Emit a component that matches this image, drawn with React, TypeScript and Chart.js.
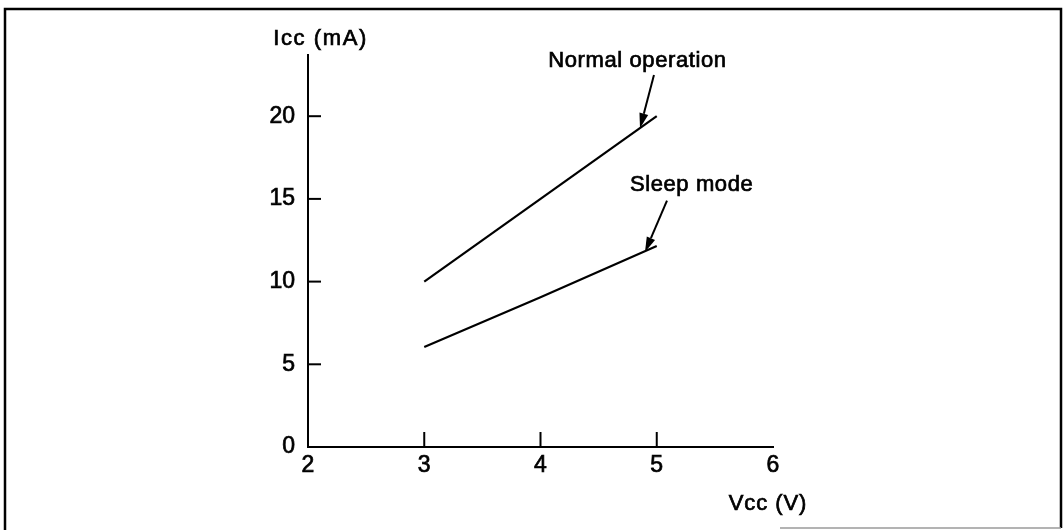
import React, { useEffect, useRef } from "react";
import { Chart, registerables } from "chart.js";

Chart.register(...registerables);

// ---- data ----
const vcc: number[] = [3, 4, 5];
const normalIcc: number[] = [10, 15, 20];
const sleepIcc: number[] = [6.05, 9.05, 12.15];

const xTickValues: number[] = [2, 3, 4, 5, 6];
const yTickValues: number[] = [0, 5, 10, 15, 20];
const xInnerTicks: number[] = [3, 4, 5];
const yInnerTicks: number[] = [5, 10, 15, 20];

const seriesNames: string[] = ["Normal operation", "Sleep mode"];
// annotation anchors in data coordinates: [textX, textY, tailX, tailY, tipX, tipY]
const normalNote: number[] = [4.834, 22.98, 4.976, 22.49, 4.856, 19.27];
const sleepNote: number[] = [5.3, 15.5, 5.088, 14.89, 4.899, 11.79];

const yTitle = "Icc (mA)";
const xTitle = "Vcc (V)";
const yTitlePos: number[] = [2.108, 24.3];
const xTitlePos: number[] = [5.957, -3.83];

const FONT = "'Liberation Sans', Arial, Helvetica, sans-serif";

const decorPlugin = {
  id: "decor",
  beforeDraw(chart: any) {
    const ctx = chart.ctx as CanvasRenderingContext2D;
    ctx.save();
    ctx.fillStyle = "#ffffff";
    ctx.fillRect(0, 0, chart.width, chart.height);
    ctx.strokeStyle = "#000";
    ctx.lineWidth = 2.5;
    ctx.beginPath();
    ctx.moveTo(5, 530);
    ctx.lineTo(5, 9);
    ctx.lineTo(1061, 9);
    ctx.lineTo(1061, 528);
    ctx.stroke();
    ctx.strokeStyle = "#9a9a9a";
    ctx.lineWidth = 1.5;
    ctx.beginPath();
    ctx.moveTo(780, 528);
    ctx.lineTo(1061, 528);
    ctx.stroke();
    ctx.restore();
  },
  afterDraw(chart: any) {
    const ctx = chart.ctx as CanvasRenderingContext2D;
    const xs = chart.scales.x;
    const ys = chart.scales.y;
    const y0 = ys.getPixelForValue(0);
    const x0 = xs.getPixelForValue(2);
    ctx.save();
    ctx.strokeStyle = "#000";
    ctx.fillStyle = "#000";
    ctx.lineWidth = 2;
    // inward ticks
    xInnerTicks.forEach((v) => {
      const px = xs.getPixelForValue(v);
      ctx.beginPath();
      ctx.moveTo(px, y0);
      ctx.lineTo(px, y0 - 15);
      ctx.stroke();
    });
    yInnerTicks.forEach((v) => {
      const py = ys.getPixelForValue(v);
      ctx.beginPath();
      ctx.moveTo(x0, py);
      ctx.lineTo(x0 + 13, py);
      ctx.stroke();
    });

    const text = (s: string, vx: number, vy: number, spacing: number) => {
      ctx.font = `22px ${FONT}`;
      (ctx as any).letterSpacing = `${spacing}px`;
      ctx.textAlign = "center";
      ctx.textBaseline = "alphabetic";
      const px = xs.getPixelForValue(vx);
      const py = ys.getPixelForValue(vy);
      ctx.lineWidth = 0.7;
      ctx.fillText(s, px, py);
      ctx.strokeText(s, px, py);
    };
    text(yTitle, yTitlePos[0], yTitlePos[1], 1.6);
    text(xTitle, xTitlePos[0], xTitlePos[1], 0.9);

    const note = (label: string, a: number[]) => {
      text(label, a[0], a[1], 0.6);
      const tx = xs.getPixelForValue(a[2]);
      const ty = ys.getPixelForValue(a[3]);
      const hx = xs.getPixelForValue(a[4]);
      const hy = ys.getPixelForValue(a[5]);
      const ang = Math.atan2(hy - ty, hx - tx);
      const len = 15;
      const hw = 4.5;
      const bx = hx - len * Math.cos(ang);
      const by = hy - len * Math.sin(ang);
      ctx.lineWidth = 2;
      ctx.beginPath();
      ctx.moveTo(tx, ty);
      ctx.lineTo(bx, by);
      ctx.stroke();
      ctx.beginPath();
      ctx.moveTo(hx, hy);
      ctx.lineTo(bx + hw * Math.sin(ang), by - hw * Math.cos(ang));
      ctx.lineTo(bx - hw * Math.sin(ang), by + hw * Math.cos(ang));
      ctx.closePath();
      ctx.fill();
    };
    note(seriesNames[0], normalNote);
    note(seriesNames[1], sleepNote);
    ctx.restore();
  },
};

export default function App() {
  const ref = useRef<HTMLCanvasElement | null>(null);
  useEffect(() => {
    document.body.style.margin = "0";
    const canvas = ref.current;
    if (!canvas) return;
    const tickFont = { family: FONT, size: 23 };
    const chart = new Chart(canvas, {
      type: "line",
      data: {
        datasets: [
          {
            label: seriesNames[0],
            data: vcc.map((x, i) => ({ x, y: normalIcc[i] })),
            borderColor: "#000",
            borderWidth: 2.2,
            pointRadius: 0,
            tension: 0,
          },
          {
            label: seriesNames[1],
            data: vcc.map((x, i) => ({ x, y: sleepIcc[i] })),
            borderColor: "#000",
            borderWidth: 2.2,
            pointRadius: 0,
            tension: 0,
          },
        ],
      },
      options: {
        animation: false,
        responsive: false,
        events: [],
        layout: { padding: { top: 55, right: 291, bottom: 0, left: 0 } },
        plugins: { legend: { display: false }, tooltip: { enabled: false } },
        scales: {
          x: {
            type: "linear",
            min: 2,
            max: 6,
            afterFit: (s: any) => {
              s.height = 83;
            },
            afterBuildTicks: (s: any) => {
              s.ticks = xTickValues.map((v) => ({ value: v }));
            },
            grid: { display: true, drawOnChartArea: false, drawTicks: false },
            border: { display: true, color: "#000", width: 2 },
            ticks: {
              color: "#000",
              padding: 5,
              maxRotation: 0,
              font: tickFont,
              textStrokeColor: "#000",
              textStrokeWidth: 0.7,
            },
          },
          y: {
            type: "linear",
            min: 0,
            max: 23.7,
            afterFit: (s: any) => {
              s.width = 308;
            },
            afterBuildTicks: (s: any) => {
              s.ticks = yTickValues.map((v) => ({ value: v }));
            },
            grid: { display: true, drawOnChartArea: false, drawTicks: false },
            border: { display: true, color: "#000", width: 2 },
            ticks: {
              color: "#000",
              padding: 13,
              font: tickFont,
              textStrokeColor: "#000",
              textStrokeWidth: 0.7,
            },
          },
        },
      },
      plugins: [decorPlugin],
    } as any);
    return () => chart.destroy();
  }, []);
  return (
    <div style={{ width: 1064, height: 530 }}>
      <canvas ref={ref} width={1064} height={530} />
    </div>
  );
}
